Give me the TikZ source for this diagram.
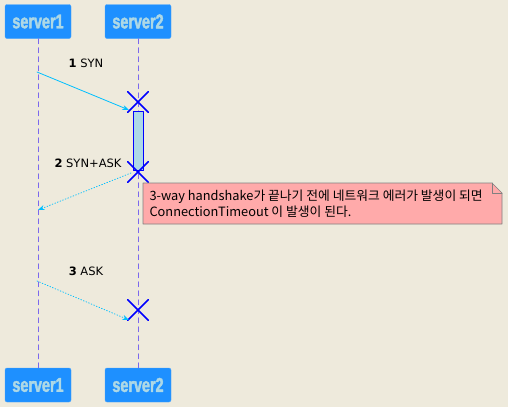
\documentclass[tikz,border=0pt]{standalone}
\usepackage{fontspec}
\setmainfont{DejaVu Sans}
\newfontfamily\kr{Noto Sans CJK KR}
\newfontfamily\srvfont[FakeStretch=0.72,FakeBold=2]{Liberation Sans Bold}
\usetikzlibrary{arrows.meta,shapes.misc,shapes.symbols,positioning}
\definecolor{bgcol}{HTML}{EEEADC}
\definecolor{srvblue}{HTML}{1E90FF}
\definecolor{srvtext}{HTML}{ADD8E6}
\definecolor{lifecol}{HTML}{7B68EE}
\definecolor{msgcol}{HTML}{00BFFF}
\definecolor{notecol}{HTML}{FFAAAA}
\tikzset{
  every picture/.style={line join=round, line cap=round, >=Stealth},
  srvbox/.style={fill=srvblue, draw=srvblue!80!white, rounded corners=2pt, minimum width=66pt,
    minimum height=34pt, inner sep=0pt, text=srvtext, font=\srvfont\fontsize{20}{20}\selectfont},
  lifeline/.style={lifecol, dashed, dash pattern=on 5pt off 4pt, line width=0.8pt},
  msg/.style={->, msgcol, line width=0.8pt},
  msgdot/.style={msg, dotted},
  kill/.style={cross out, draw=blue, line width=1.6pt, minimum size=19pt, inner sep=0pt},
  msglabel/.style={font=\fontsize{11.5}{13}\selectfont},
}

\begin{document}
\begin{tikzpicture}[x=1pt,y=-1pt]
\useasboundingbox[fill=bgcol] (0,0) rectangle (508,407);
% participants
\node[srvbox] (s1top) at (38,21.5) {server1};
\node[srvbox] (s2top) at (138,21.5) {server2};
\node[srvbox] (s1bot) at (38,385) {server1};
\node[srvbox] (s2bot) at (138,385) {server2};
\draw[lifeline] (s1top.south) -- (s1bot.north);
\draw[lifeline] (s2top.south) -- (s2bot.north);
% activation
\draw[blue, fill=srvtext, line width=0.8pt] (133,111) rectangle (143,170);
% 1 SYN
\coordinate (m1a) at (37,72);
\coordinate (m1b) at (129,110);
\node[kill] (x1) at (138,102) {};
\draw[msg] (m1a) -- (m1b);
\node[msglabel] (l1) at (86,63) {\textbf{1} SYN};
% 2 SYN+ASK
\coordinate (m2a) at (131,173);
\coordinate (m2b) at (38,210);
\node[kill] (x2) at (138,172) {};
\draw[msgdot] (m2a) -- (m2b);
\node[msglabel] (l2) at (88,163) {\textbf{2} SYN+ASK};
% 3 ASK
\coordinate (m3a) at (37,281);
\coordinate (m3b) at (129,320);
\node[kill] (x3) at (138,310) {};
\draw[msgdot] (m3a) -- (m3b);
\node[msglabel] (l3) at (86,271) {\textbf{3} ASK};
% note
\draw[gray, fill=notecol, line width=0.7pt] (143,183) -- (492,183) -- (502,193) -- (502,224) -- (143,224) -- cycle;
\draw[gray, line width=0.7pt] (492,183) -- (492,193) -- (502,193);
\node[align=left, anchor=west, font=\kr\fontsize{12.8}{16}\selectfont] (n1) at (146,204)
  {3-way handshake가 끝나기 전에 네트워크 에러가 발생이 되면\\ ConnectionTimeout 이 발생이 된다.};
\end{tikzpicture}
\end{document}
